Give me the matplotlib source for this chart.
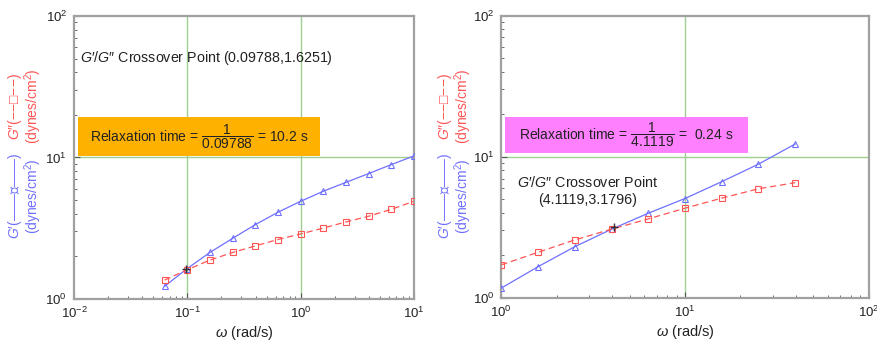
import matplotlib.pyplot as plt
from matplotlib.patches import Rectangle

plt.rcParams['font.family'] = ['Liberation Sans', 'DejaVu Sans']
plt.rcParams['mathtext.fontset'] = 'custom'
plt.rcParams['mathtext.rm'] = 'Liberation Sans'
plt.rcParams['mathtext.it'] = 'Liberation Sans:italic'
plt.rcParams['mathtext.sf'] = 'Liberation Sans'
plt.rcParams['mathtext.fallback'] = 'stixsans'

# left panel data
w_left = [0.0631, 0.1, 0.158, 0.251, 0.398, 0.631, 1.0, 1.585, 2.512, 3.981, 6.31, 10.0]
g1_left = [1.23, 1.64, 2.13, 2.68, 3.35, 4.10, 4.90, 5.77, 6.67, 7.69, 8.90, 10.25]
g2_left = [1.36, 1.61, 1.88, 2.13, 2.37, 2.63, 2.88, 3.17, 3.50, 3.84, 4.30, 4.90]
cross_left = (0.09788, 1.6251)

# right panel data
w_right = [1.0, 1.585, 2.512, 3.981, 6.31, 10.0, 15.85, 25.12, 39.81]
g1_right = [1.17, 1.66, 2.30, 3.06, 3.97, 5.05, 6.65, 8.85, 12.3]
g2_right = [1.71, 2.10, 2.57, 3.06, 3.62, 4.31, 5.08, 5.92, 6.54]
cross_right = (4.1119, 3.1796)

blue = '#7070ff'
red = '#ff5555'
grid_green = '#9fd090'

fig = plt.figure(figsize=(8.78, 3.44), dpi=100)


def panel(rect, w, g1, g2, cross, xlim, vlines, box_rect, box_color, box_text,
          note_pos, note_text, note_ha, label_x):
    ax = fig.add_axes(rect)
    ax.set_xscale('log')
    ax.set_yscale('log')
    ax.set_xlim(*xlim)
    ax.set_ylim(1, 100)
    for v in vlines:
        ax.axvline(v, color=grid_green, lw=1.0, zorder=1)
    ax.axhline(10, color=grid_green, lw=1.0, zorder=1)
    ax.plot(w, g1, '-', color=blue, lw=0.9, marker='^', ms=4.5, mfc='none',
            mec=blue, mew=0.8, zorder=3)
    ax.plot(w, g2, '--', color=red, lw=0.9, marker='s', ms=4, mfc='none',
            mec=red, mew=0.8, dashes=(5, 3), zorder=3)
    ax.plot(cross[0], cross[1], marker='+', color='#333333', ms=6, mew=1.0, zorder=4)
    ax.add_patch(Rectangle((box_rect[0], box_rect[1]), box_rect[2], box_rect[3],
                           transform=ax.transAxes, facecolor=box_color,
                           edgecolor='none', zorder=2))
    ax.text(box_rect[0] + box_rect[2] / 2, box_rect[1] + box_rect[3] / 2, box_text,
            transform=ax.transAxes, ha='center', va='center', fontsize=10,
            color='#222222', zorder=5)
    ax.text(note_pos[0], note_pos[1], note_text, transform=ax.transAxes,
            ha=note_ha, va='center', fontsize=10.3, color='#222222',
            multialignment='center', zorder=5)
    for s in ax.spines.values():
        s.set_color('#a0a0a0')
        s.set_linewidth(1.6)
    ax.tick_params(which='both', direction='in', top=False, right=False,
                   color='#555555', labelsize=9.5, labelcolor='#222222')
    ax.tick_params(which='major', length=4, width=0.8, pad=5)
    ax.tick_params(which='minor', length=2, width=0.6)
    ax.set_xlabel(r'$\it{\omega}$ (rad/s)', fontsize=10.5, color='#222222', labelpad=2)

    # two-colour y labels
    fig.text(label_x, 0.69, "$\\it{G″}$(−−□−−)", rotation=90, color=red,
             ha='center', va='center', fontsize=10)
    fig.text(label_x + 0.021, 0.69, '(dynes/cm$^2$)', rotation=90, color=red,
             ha='center', va='center', fontsize=10)
    fig.text(label_x, 0.43, "$\\it{G′}$(——△——)", rotation=90, color=blue,
             ha='center', va='center', fontsize=10)
    fig.text(label_x + 0.021, 0.43, '(dynes/cm$^2$)', rotation=90, color=blue,
             ha='center', va='center', fontsize=10)
    return ax


panel([0.0843, 0.131, 0.3872, 0.8227], w_left, g1_left, g2_left, cross_left,
      (0.01, 10), [0.1, 1.0], (0.012, 0.505, 0.712, 0.138), '#ffb100',
      r'Relaxation time = $\dfrac{1}{0.09788}$ = 10.2 s',
      (0.018, 0.852), "$\\it{G′/G″}$ Crossover Point (0.09788,1.6251)", 'left',
      0.017)

panel([0.571, 0.1346, 0.4184, 0.82], w_right, g1_right, g2_right, cross_right,
      (1, 100), [10.0], (0.009, 0.512, 0.662, 0.13), '#ff80ff',
      r'Relaxation time = $\dfrac{1}{4.1119}$ =  0.24 s',
      (0.236, 0.378), "$\\it{G′/G″}$ Crossover Point\n(4.1119,3.1796)", 'center',
      0.507)

fig.savefig('out.png', dpi=100)
